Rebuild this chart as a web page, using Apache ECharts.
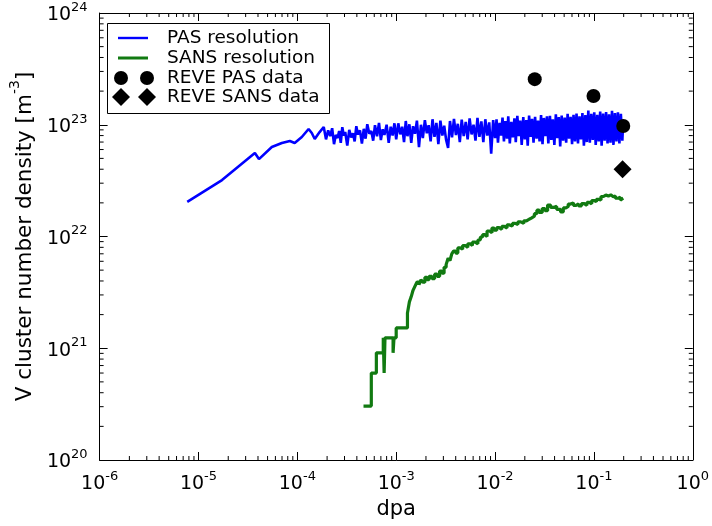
<!DOCTYPE html>
<html>
<head>
<meta charset="utf-8">
<script src="https://cdn.jsdelivr.net/npm/echarts@6/dist/echarts.min.js"></script>
<style>html,body{margin:0;padding:0;background:#fff}#c{width:712px;height:526px}</style>
</head>
<body>
<div id="c"></div>
<script>
// ---------- data ----------
const pasX = [
  7.7e-6, 1.73e-5, 3.72e-5, 4.09e-5, 5.52e-5, 6.97e-5, 8.4e-5, 9.4e-5, 1.11e-4, 1.30e-4, 1.40e-4, 1.50e-4, 1.68e-4, 1.85e-4,
  1.95e-4, 2.05e-4, 2.15e-4, 2.25e-4, 2.35e-4, 2.45e-4, 2.55e-4, 2.65e-4, 2.75e-4, 2.85e-4, 2.95e-4, 3.05e-4, 3.2e-4, 3.35e-4,
  3.5e-4, 3.65e-4, 3.8e-4, 3.95e-4, 4.1e-4, 4.3e-4, 4.5e-4, 4.7e-4, 4.9e-4, 5.1e-4, 5.35e-4, 5.6e-4, 5.85e-4, 6.1e-4, 6.4e-4,
  6.7e-4, 7.0e-4, 7.3e-4, 7.6e-4, 8.0e-4, 8.4e-4, 8.8e-4, 9.2e-4, 9.6e-4,
  1.0e-3, 1.05e-3, 1.1e-3, 1.15e-3, 1.2e-3, 1.25e-3, 1.3e-3, 1.36e-3, 1.42e-3, 1.48e-3, 1.55e-3, 1.62e-3, 1.7e-3, 1.78e-3,
  1.86e-3, 1.95e-3, 2.04e-3, 2.13e-3, 2.23e-3, 2.33e-3, 2.44e-3, 2.55e-3, 2.67e-3, 2.8e-3, 2.93e-3, 3.06e-3, 3.2e-3, 3.35e-3,
  3.5e-3, 3.67e-3, 3.84e-3, 4.02e-3, 4.2e-3, 4.4e-3, 4.6e-3, 4.82e-3, 5.05e-3, 5.28e-3, 5.53e-3, 5.79e-3, 6.06e-3, 6.34e-3,
  6.64e-3, 6.95e-3, 7.27e-3, 7.61e-3, 7.97e-3, 8.34e-3, 8.73e-3, 9.14e-3, 9.57e-3,
  1.0e-2, 1.035e-2, 1.07e-2, 1.11e-2, 1.15e-2, 1.19e-2, 1.23e-2, 1.27e-2, 1.32e-2, 1.36e-2, 1.41e-2, 1.46e-2, 1.51e-2, 1.57e-2,
  1.62e-2, 1.68e-2, 1.74e-2, 1.8e-2, 1.86e-2, 1.93e-2, 2.0e-2, 2.07e-2, 2.14e-2, 2.21e-2, 2.29e-2, 2.37e-2, 2.45e-2, 2.54e-2,
  2.63e-2, 2.72e-2, 2.82e-2, 2.92e-2, 3.02e-2, 3.12e-2, 3.23e-2, 3.35e-2, 3.46e-2, 3.59e-2, 3.71e-2, 3.84e-2, 3.98e-2, 4.12e-2,
  4.26e-2, 4.41e-2, 4.56e-2, 4.72e-2, 4.89e-2, 5.06e-2, 5.24e-2, 5.42e-2, 5.61e-2, 5.81e-2, 6.01e-2, 6.22e-2, 6.44e-2, 6.67e-2,
  6.9e-2, 7.14e-2, 7.39e-2, 7.65e-2, 7.92e-2, 8.2e-2, 8.48e-2, 8.78e-2, 9.09e-2, 9.41e-2, 9.74e-2,
  0.1008, 0.1043, 0.108, 0.1118, 0.1157, 0.1197, 0.1239, 0.1283, 0.1328, 0.1374, 0.1422, 0.1472, 0.1524, 0.1577, 0.1632,
  0.169, 0.1749, 0.181, 0.1873, 0.1939, 0.198
];
const pasY = [
  2.04e22, 3.2e22, 5.58e22, 4.93e22, 6.32e22, 6.87e22, 7.16e22, 6.87e22, 7.77e22, 9.16e22, 8.44e22, 7.45e22, 8.6e22, 9.55e22,
  7.4e22, 8.9e22, 7.9e22, 9.3e22, 6.7e22, 8.1e22, 7.6e22, 8.8e22, 6.9e22, 9.5e22, 8.0e22, 8.6e22, 6.5e22, 9.0e22,
  7.7e22, 8.4e22, 7.1e22, 9.7e22, 8.2e22, 8.9e22, 6.8e22, 9.2e22, 7.5e22, 10.1e22, 8.3e22, 8.8e22, 7.2e22, 9.9e22, 7.9e22,
  10.4e22, 7.3e22, 9.1e22, 8.1e22, 10.0e22, 6.9e22, 9.6e22, 8.0e22, 10.3e22,
  7.4e22, 10.3e22, 8.2e22, 9.6e22, 7.0e22, 10.8e22, 7.9e22, 10.1e22, 6.9e22, 9.7e22, 8.3e22, 10.9e22, 6.3e22, 10.0e22,
  7.6e22, 11.0e22, 8.4e22, 9.9e22, 7.1e22, 11.2e22, 7.8e22, 10.4e22, 6.7e22, 10.9e22, 8.0e22, 9.8e22, 7.3e22, 6.2e22,
  10.8e22, 7.7e22, 11.3e22, 8.1e22, 10.2e22, 7.0e22, 11.1e22, 7.9e22, 10.6e22, 7.4e22, 11.4e22, 8.2e22, 10.0e22, 7.2e22,
  11.5e22, 7.8e22, 10.7e22, 7.0e22, 11.2e22, 8.0e22, 10.5e22, 5.5e22, 11.0e22,
  7.6e22, 11.2e22, 6.9e22, 10.4e22, 8.0e22, 11.6e22, 7.1e22, 10.8e22, 7.5e22, 11.9e22, 6.8e22, 10.6e22, 7.7e22, 11.4e22,
  7.0e22, 12.0e22, 7.9e22, 10.9e22, 6.6e22, 11.7e22, 7.4e22, 11.0e22, 6.5e22, 12.1e22, 7.8e22, 11.3e22, 6.9e22, 11.8e22,
  7.5e22, 10.9e22, 7.1e22, 12.2e22, 6.7e22, 11.5e22, 7.9e22, 11.9e22, 6.8e22, 12.0e22, 7.3e22, 11.2e22, 6.6e22, 12.4e22,
  7.6e22, 11.7e22, 6.4e22, 12.1e22, 7.2e22, 11.6e22, 6.9e22, 12.5e22, 7.5e22, 11.8e22, 6.7e22, 12.3e22, 7.1e22, 12.6e22,
  6.8e22, 11.9e22, 7.4e22, 12.7e22, 6.5e22, 12.2e22, 7.0e22, 13.4e22, 6.9e22, 12.5e22, 7.3e22,
  12.9e22, 6.6e22, 12.3e22, 7.1e22, 13.1e22, 6.5e22, 12.6e22, 7.2e22, 13.0e22, 6.8e22, 12.4e22, 6.9e22, 13.3e22, 6.6e22, 12.7e22,
  7.1e22, 12.9e22, 6.8e22, 12.5e22, 7.2e22, 11.0e22
];
const sansX = [
  4.67e-4, 5.6e-4, 6.3e-4, 7.4e-4, 7.55e-4, 7.7e-4, 9.3e-4, 9.5e-4, 1.0e-3, 1.3e-3, 1.36e-3, 1.42e-3, 1.48e-3, 1.55e-3,
  1.62e-3, 1.7e-3, 1.78e-3, 1.86e-3, 1.95e-3, 2.05e-3, 2.15e-3, 2.3e-3, 2.45e-3, 2.6e-3, 2.75e-3, 2.9e-3, 3.05e-3, 3.2e-3,
  3.35e-3, 3.5e-3, 3.65e-3, 3.8e-3, 4.0e-3, 4.2e-3, 4.45e-3, 4.7e-3, 5.0e-3, 5.3e-3, 5.6e-3, 5.9e-3, 6.3e-3, 6.7e-3,
  7.1e-3, 7.5e-3, 7.9e-3, 8.3e-3, 8.8e-3, 9.3e-3, 9.8e-3, 1.04e-2, 1.1e-2, 1.17e-2, 1.24e-2, 1.32e-2, 1.4e-2, 1.5e-2,
  1.6e-2, 1.7e-2, 1.82e-2, 1.95e-2, 2.08e-2, 2.2e-2, 2.35e-2, 2.5e-2, 2.65e-2, 2.8e-2, 3.0e-2, 3.2e-2, 3.4e-2, 3.65e-2,
  3.9e-2, 4.2e-2, 4.6e-2, 4.9e-2, 5.2e-2, 5.5e-2, 5.8e-2, 6.2e-2, 6.6e-2, 7.0e-2, 7.5e-2, 8.0e-2, 8.5e-2, 9.0e-2,
  9.5e-2, 0.1, 0.106, 0.112, 0.118, 0.125, 0.132, 0.14, 0.148, 0.157, 0.165, 0.175, 0.185, 0.192, 0.198
];
const sansY = [
  3.04e20, 6.0e20, 9.1e20, 1.24e21, 6.0e20, 1.24e21, 9.1e20, 1.24e21, 1.52e21, 2.07e21, 2.6e21, 2.9e21, 3.3e21, 3.6e21,
  3.9e21, 3.7e21, 4.1e21, 3.9e21, 4.3e21, 4.1e21, 4.4e21, 4.2e21, 4.6e21, 4.4e21, 4.9e21, 4.7e21, 5.3e21, 5.6e21,
  6.4e21, 6.1e21, 7.0e21, 7.4e21, 7.1e21, 7.9e21, 7.7e21, 8.3e21, 8.0e21, 8.6e21, 8.3e21, 8.9e21, 8.6e21, 9.3e21,
  9.9e21, 1.04e22, 1.0e22, 1.12e22, 1.08e22, 1.19e22, 1.14e22, 1.2e22, 1.16e22, 1.23e22, 1.19e22, 1.27e22, 1.24e22, 1.31e22,
  1.28e22, 1.35e22, 1.31e22, 1.38e22, 1.42e22, 1.47e22, 1.52e22, 1.6e22, 1.72e22, 1.64e22, 1.78e22, 1.7e22, 1.91e22, 1.82e22,
  1.86e22, 1.75e22, 1.66e22, 1.8e22, 1.86e22, 1.95e22, 2.0e22, 1.9e22, 1.96e22, 1.88e22, 1.97e22, 1.9e22, 2.02e22, 1.96e22,
  2.1e22, 2.05e22, 2.15e22, 2.12e22, 2.28e22, 2.35e22, 2.3e22, 2.36e22, 2.27e22, 2.3e22, 2.2e22, 2.24e22, 2.12e22, 2.2e22, 2.21e22
];
const revePasX = [0.0252, 0.099, 0.198];
const revePasY = [2.56e23, 1.81e23, 9.75e22];
const reveSansX = [0.195];
const reveSansY = [4.0e22];
const legendLabels = ['PAS resolution', 'SANS resolution', 'REVE PAS data', 'REVE SANS data'];
const xMinorTicks = [
  2e-6,3e-6,4e-6,5e-6,6e-6,7e-6,8e-6,9e-6, 2e-5,3e-5,4e-5,5e-5,6e-5,7e-5,8e-5,9e-5,
  2e-4,3e-4,4e-4,5e-4,6e-4,7e-4,8e-4,9e-4, 2e-3,3e-3,4e-3,5e-3,6e-3,7e-3,8e-3,9e-3,
  2e-2,3e-2,4e-2,5e-2,6e-2,7e-2,8e-2,9e-2, 0.2,0.3,0.4,0.5,0.6,0.7,0.8,0.9
];
const yMinorTicks = [
  2e20,3e20,4e20,5e20,6e20,7e20,8e20,9e20, 2e21,3e21,4e21,5e21,6e21,7e21,8e21,9e21,
  2e22,3e22,4e22,5e22,6e22,7e22,8e22,9e22, 2e23,3e23,4e23,5e23,6e23,7e23,8e23,9e23
];

// ---------- chart ----------
const FONT = 'DejaVu Sans';
const zip = (a, b) => a.map((v, i) => [v, b[i]]);
const supFmt = v => '{b|10}{s|' + Math.round(Math.log10(v)) + '}';
const tickRich = {
  b: { fontSize: 19, fontFamily: FONT, color: '#000', lineHeight: 24, verticalAlign: 'bottom' },
  s: { fontSize: 13, fontFamily: FONT, color: '#000', lineHeight: 24, verticalAlign: 'top' }
};
const axisCommon = {
  type: 'log', logBase: 10,
  axisLine: { show: true, onZero: false, lineStyle: { color: '#000', width: 1 } },
  axisTick: { show: true, inside: true, length: 8, lineStyle: { color: '#000', width: 1 } },
  splitLine: { show: false }, minorTick: { show: false }
};
const chart = echarts.init(document.getElementById('c'), null, { renderer: 'canvas' });

function minorRender(isX) {
  return function (params, api) {
    const v = api.value(isX ? 0 : 1);
    const len = 4;
    const st = { stroke: '#000', lineWidth: 1 };
    if (isX) {
      const b = api.coord([v, 1e20]);
      const t = api.coord([v, 1e24]);
      return { type: 'group', children: [
        { type: 'line', shape: { x1: b[0], y1: b[1], x2: b[0], y2: b[1] - len }, style: st },
        { type: 'line', shape: { x1: t[0], y1: t[1], x2: t[0], y2: t[1] + len }, style: st }
      ] };
    } else {
      const l = api.coord([1e-6, v]);
      const r = api.coord([1, v]);
      return { type: 'group', children: [
        { type: 'line', shape: { x1: l[0], y1: l[1], x2: l[0] + len, y2: l[1] }, style: st },
        { type: 'line', shape: { x1: r[0], y1: r[1], x2: r[0] - len, y2: r[1] }, style: st }
      ] };
    }
  };
}

const lx1 = 118, lx2 = 148, m1 = 121, m2 = 147, tx = 167;
const rowsY = [38, 58, 78, 97];
const diamond = (cx, cy) => ({ type: 'polygon', shape: { points: [[cx, cy - 9], [cx + 9, cy], [cx, cy + 9], [cx - 9, cy]] }, style: { fill: '#000' } });

const option = {
  animation: false,
  backgroundColor: '#fff',
  grid: { left: 97, right: 19, top: 13, bottom: 66, containLabel: false },
  xAxis: [
    Object.assign({}, axisCommon, {
      position: 'bottom', min: 1e-6, max: 1, splitNumber: 6,
      axisLabel: { show: true, margin: 10, formatter: supFmt, rich: tickRich },
      name: 'dpa', nameLocation: 'middle', nameGap: 36,
      nameTextStyle: { fontSize: 21, fontFamily: FONT, color: '#000' }
    }),
    Object.assign({}, axisCommon, {
      position: 'top', min: 1e-6, max: 1, splitNumber: 6, axisLabel: { show: false }
    })
  ],
  yAxis: [
    Object.assign({}, axisCommon, {
      position: 'left', min: 1e20, max: 1e24, splitNumber: 4,
      axisLabel: { show: true, margin: 12, formatter: supFmt, rich: tickRich },
      name: '{a|V cluster number density [m}{s|-3}{a|]}', nameLocation: 'middle', nameGap: 57,
      nameTextStyle: {
        rich: {
          a: { fontSize: 21.5, fontFamily: FONT, color: '#000', lineHeight: 28, verticalAlign: 'bottom' },
          s: { fontSize: 14, fontFamily: FONT, color: '#000', lineHeight: 28, verticalAlign: 'top' }
        }
      }
    }),
    Object.assign({}, axisCommon, {
      position: 'right', min: 1e20, max: 1e24, splitNumber: 4, axisLabel: { show: false }
    })
  ],
  series: [
    { name: 'xminor', type: 'custom', xAxisIndex: 0, yAxisIndex: 0, clip: false, silent: true,
      data: xMinorTicks.map(v => [v, 1e20]), renderItem: minorRender(true), z: 1 },
    { name: 'yminor', type: 'custom', xAxisIndex: 0, yAxisIndex: 0, clip: false, silent: true,
      data: yMinorTicks.map(v => [1e-6, v]), renderItem: minorRender(false), z: 1 },
    { name: legendLabels[0], type: 'line', data: zip(pasX, pasY), showSymbol: false, symbol: 'none',
      lineStyle: { color: '#0000ff', width: 2.6 }, z: 3 },
    { name: legendLabels[1], type: 'line', step: 'end', data: zip(sansX, sansY), showSymbol: false, symbol: 'none',
      lineStyle: { color: '#117a11', width: 3.2 }, z: 3 },
    { name: legendLabels[2], type: 'scatter', data: zip(revePasX, revePasY), symbol: 'circle', symbolSize: 14,
      itemStyle: { color: '#000', opacity: 1 }, z: 5 },
    { name: legendLabels[3], type: 'scatter', data: zip(reveSansX, reveSansY), symbol: 'diamond', symbolSize: 18,
      itemStyle: { color: '#000', opacity: 1 }, z: 5 }
  ],
  graphic: [
    { type: 'group', z: 100, children: [
      { type: 'rect', shape: { x: 107.5, y: 23.5, width: 222, height: 90 }, style: { fill: '#fff', stroke: '#000', lineWidth: 1 } },
      { type: 'line', shape: { x1: lx1, y1: rowsY[0], x2: lx2, y2: rowsY[0] }, style: { stroke: '#0000ff', lineWidth: 2.4 } },
      { type: 'line', shape: { x1: lx1, y1: rowsY[1], x2: lx2, y2: rowsY[1] }, style: { stroke: '#117a11', lineWidth: 3 } },
      { type: 'circle', shape: { cx: m1, cy: rowsY[2], r: 7 }, style: { fill: '#000' } },
      { type: 'circle', shape: { cx: m2, cy: rowsY[2], r: 7 }, style: { fill: '#000' } },
      diamond(m1, rowsY[3]), diamond(m2, rowsY[3]),
      ...legendLabels.map((t, i) => ({ type: 'text', x: tx, y: rowsY[i],
        style: { text: t, fontSize: 18.5, fontFamily: FONT, fill: '#000', verticalAlign: 'middle', align: 'left' } }))
    ] }
  ]
};
chart.setOption(option);
</script>
</body>
</html>
